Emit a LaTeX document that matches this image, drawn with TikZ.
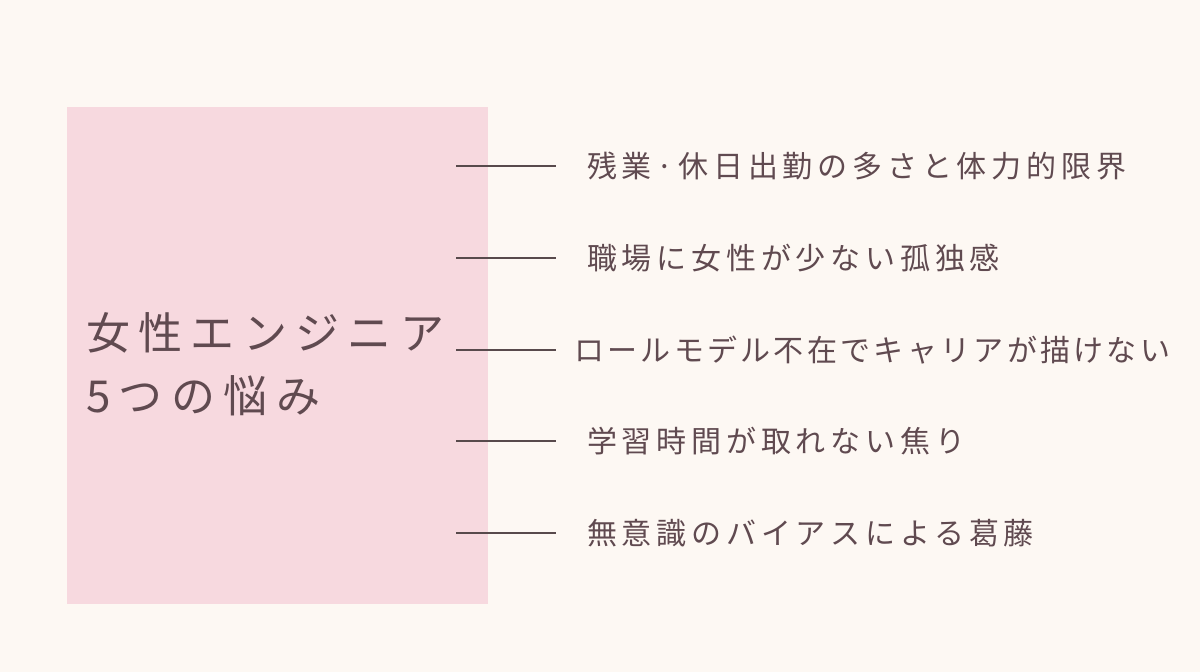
\documentclass[tikz,border=0pt]{standalone}
\usepackage{fontspec}
\newfontfamily\jpfont[LetterSpace=16]{Noto Sans CJK JP}
\newfontfamily\jpnarrow[LetterSpace=11]{Noto Sans CJK JP}
\newfontfamily\jptitle[LetterSpace=19]{Noto Sans CJK JP}
\definecolor{bgcream}{RGB}{253,248,243}
\definecolor{boxpink}{RGB}{247,217,223}
\definecolor{inkmauve}{RGB}{96,74,80}
\definecolor{linebrown}{RGB}{88,74,76}

\begin{document}
\begin{tikzpicture}[x = 1pt, y = -1pt,
	worry/.style = {anchor = west, inner sep = 0pt, text = inkmauve, font = \jpfont\fontsize{30}{33}\selectfont},
	headline/.style = {anchor = west, inner sep = 0pt, text = inkmauve, font = \jptitle\fontsize{44}{50}\selectfont},
	tick/.style = {linebrown, line width = 1.4pt}]
		%%%%%%%%%%%%%
		\fill [bgcream] (0, 0) rectangle (1200, 672);
		\useasboundingbox (0, 0) rectangle (1200, 672);
		\fill [boxpink] (67, 107) rectangle (488, 604);
		%%%%%%%%%%%%%
		\node [headline] (title1) at (86, 333) {女性エンジニア};
		\node [headline] (title2) at (86, 396) {5つの悩み};
		%%%%%%%%%%%%%
		\node [worry] (w1) at (587, 166) {残業·休日出勤の多さと体力的限界};
		\node [worry] (w2) at (587, 258) {職場に女性が少ない孤独感};
		\node [worry, font = \jpnarrow\fontsize{30}{33}\selectfont] (w3) at (574, 350) {ロールモデル不在でキャリアが描けない};
		\node [worry] (w4) at (587, 441) {学習時間が取れない焦り};
		\node [worry] (w5) at (587, 533) {無意識のバイアスによる葛藤};
		%%%%%%%%%%%%%
		\coordinate (a1) at (456, 166); \coordinate (b1) at (556, 166);
		\coordinate (a2) at (456, 258); \coordinate (b2) at (556, 258);
		\coordinate (a3) at (456, 350); \coordinate (b3) at (556, 350);
		\coordinate (a4) at (456, 441); \coordinate (b4) at (556, 441);
		\coordinate (a5) at (456, 533); \coordinate (b5) at (556, 533);
		\draw [tick] (a1) to (b1);
		\draw [tick] (a2) to (b2);
		\draw [tick] (a3) to (b3);
		\draw [tick] (a4) to (b4);
		\draw [tick] (a5) to (b5);
\end{tikzpicture}
\end{document}
